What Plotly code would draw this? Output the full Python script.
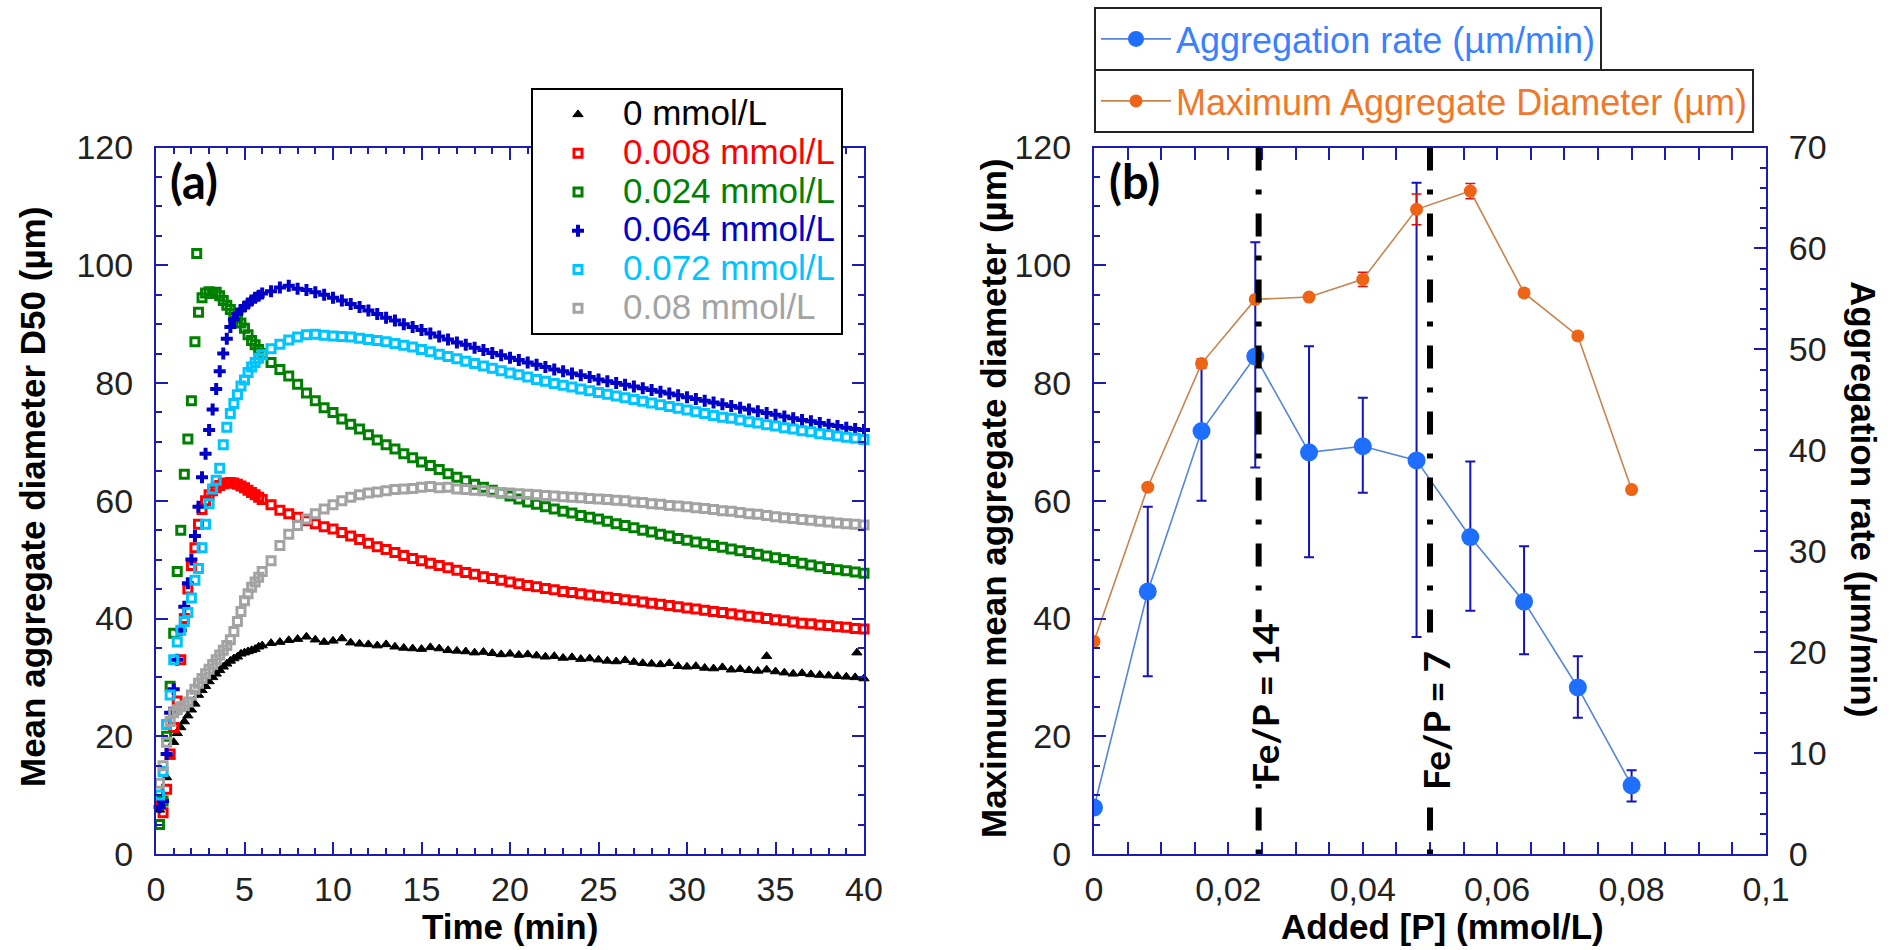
import plotly.graph_objects as go

# ---------------- data: panel (a) ----------------
time_min = [0.2, 0.4, 0.6, 0.8, 1.0, 1.2, 1.4, 1.6, 1.8, 2.0,
            2.2, 2.4, 2.6, 2.8, 3.0, 3.2, 3.4, 3.6, 3.8, 4.0,
            4.2, 4.4, 4.6, 4.8, 5.0, 5.2, 5.4, 5.6, 5.8, 6.0,
            6.5, 7.0, 7.5, 8.0, 8.5, 9.0, 9.5, 10.0, 10.5, 11.0,
            11.5, 12.0, 12.5, 13.0, 13.5, 14.0, 14.5, 15.0, 15.5, 16.0,
            16.5, 17.0, 17.5, 18.0, 18.5, 19.0, 19.5, 20.0, 20.5, 21.0,
            21.5, 22.0, 22.5, 23.0, 23.5, 24.0, 24.5, 25.0, 25.5, 26.0,
            26.5, 27.0, 27.5, 28.0, 28.5, 29.0, 29.5, 30.0, 30.5, 31.0,
            31.5, 32.0, 32.5, 33.0, 33.5, 34.0, 34.5, 35.0, 35.5, 36.0,
            36.5, 37.0, 37.5, 38.0, 38.5, 39.0, 39.5, 40.0]

d50_p0000 = [7.5, 9.5, 13, 16.5, 19, 20.5, 21.5, 22.5, 23.5, 24.5,
             25.5, 27, 27.8, 28.5, 29.3, 30, 30.6, 31.2, 31.8, 32.3,
             32.8, 33.2, 33.5, 34, 34.2, 34.4, 34.6, 34.8, 35.2, 35.4,
             35.8, 36, 36.3, 36.5, 36.9, 36.4, 36, 36.2, 36.6, 35.9,
             35.7, 35.6, 35.4, 35.6, 35.2, 35, 34.9, 34.8, 35.1, 34.9,
             34.6, 34.5, 34.4, 34.2, 34.3, 34.1, 33.9, 34, 33.8, 33.9,
             33.7, 33.5, 33.6, 33.3, 33.4, 33.1, 33.2, 33, 32.8, 32.7,
             32.9, 32.6, 32.4, 32.3, 32.2, 32.4, 31.9, 31.8, 31.9, 31.6,
             31.5, 31.7, 31.3, 31.4, 31.2, 31.1, 31.3, 31, 30.8, 30.6,
             30.7, 30.5, 30.4, 30.3, 30.2, 30.1, 30, 29.8]
d50_p0008 = [9, 7, 11, 17, 21.5, 26, 33, 40, 45, 49,
             52, 56, 58.5, 60, 61, 61.7, 62.2, 62.6, 62.9, 63,
             63.1, 63, 62.8, 62.5, 62.2, 61.8, 61.4, 61, 60.6, 60.2,
             59.3, 58.4, 57.8, 57.2, 56.6, 56.1, 55.6, 55.2, 54.6, 54,
             53.4, 52.8, 52.2, 51.7, 51.2, 50.7, 50.2, 49.8, 49.4, 49,
             48.6, 48.2, 47.8, 47.5, 47.1, 46.8, 46.5, 46.2, 45.9, 45.6,
             45.4, 45.1, 44.9, 44.6, 44.4, 44.2, 44, 43.8, 43.6, 43.4,
             43.2, 43, 42.8, 42.6, 42.4, 42.2, 42, 41.8, 41.6, 41.4,
             41.2, 41, 40.8, 40.6, 40.4, 40.2, 40, 39.8, 39.6, 39.4,
             39.2, 39.1, 38.9, 38.8, 38.6, 38.5, 38.3, 38.2]
d50_p0024 = [5, 9, 20, 28.5, 37.5, 48, 55, 64.5, 70.5, 77,
             87, 92, 94.5, 95.3, 95.5, 95.2, 95.4, 94.8, 94, 93.2,
             92.5, 91.8, 91, 90.2, 89.3, 88.2, 87.2, 86.5, 85.7, 85,
             83.5, 82.3, 81.2, 79.8, 78.3, 77, 75.8, 75, 73.9, 73,
             72.2, 71.2, 70.3, 69.5, 68.8, 68, 67.3, 66.6, 66, 65.3,
             64.6, 64, 63.4, 62.8, 62.3, 61.8, 61.3, 60.8, 60.3, 59.8,
             59.4, 59, 58.6, 58.2, 57.9, 57.5, 57.2, 56.9, 56.5, 56.1,
             55.8, 55.4, 55, 54.7, 54.3, 54, 53.6, 53.3, 53, 52.7,
             52.4, 52.1, 51.8, 51.5, 51.2, 50.9, 50.6, 50.3, 50, 49.7,
             49.4, 49.1, 48.8, 48.5, 48.3, 48.1, 47.9, 47.7]
d50_p0064 = [8, 9, 17, 24, 28, 33, 38, 42, 46, 50,
             54, 59, 64, 68, 72, 75.5, 79, 82, 85, 87.5,
             89.5, 90.8, 91.8, 92.4, 93, 93.5, 94, 94.5, 94.8, 95.2,
             95.6, 96.2, 96.5, 96, 95.8, 95.4, 95, 94.5, 94, 93.4,
             92.9, 92.3, 91.7, 91.1, 90.6, 90, 89.5, 89, 88.4, 87.9,
             87.4, 86.9, 86.5, 86, 85.6, 85.1, 84.7, 84.3, 83.9, 83.5,
             83.1, 82.7, 82.3, 82, 81.6, 81.3, 81, 80.6, 80.3, 80,
             79.7, 79.4, 79.1, 78.8, 78.5, 78.2, 77.9, 77.6, 77.3, 77,
             76.7, 76.4, 76.1, 75.8, 75.5, 75.2, 74.9, 74.6, 74.3, 74,
             73.7, 73.5, 73.2, 72.9, 72.7, 72.4, 72.2, 72]
d50_p0072 = [10, 14, 22, 27, 33, 36, 38, 39.5, 41, 43.5,
             46.5, 48.5, 52, 56, 59.5, 62, 63.5, 65.5, 69.5, 72.5,
             74.8, 76.5, 78, 79.5, 80.5, 81.8, 82.7, 83.5, 84.2, 84.8,
             85.8, 86.6, 87.3, 87.8, 88.2, 88.3, 88.1, 88, 87.9, 87.8,
             87.6, 87.4, 87.2, 87, 86.7, 86.4, 86.1, 85.7, 85.3, 84.9,
             84.5, 84.1, 83.7, 83.3, 82.9, 82.5, 82.1, 81.7, 81.4, 81,
             80.6, 80.3, 79.9, 79.6, 79.3, 79, 78.7, 78.4, 78.1, 77.8,
             77.5, 77.2, 76.9, 76.6, 76.3, 76, 75.7, 75.4, 75.1, 74.8,
             74.5, 74.2, 74, 73.7, 73.4, 73.2, 72.9, 72.7, 72.4, 72.2,
             71.9, 71.7, 71.4, 71.2, 71, 70.8, 70.6, 70.4]
d50_p0080 = [12, 15, 19, 22.5, 24, 24.5, 25, 25.2, 25.8, 27,
             28, 29, 29.8, 30.6, 31.4, 32.2, 33, 33.8, 34.6, 35.4,
             36.4, 37.8, 39.5, 41.2, 43, 44.2, 45.3, 46.2, 47, 48,
             49.8, 52.4, 54.3, 55.8, 56.9, 57.8, 58.6, 59.3, 60, 60.6,
             61, 61.3, 61.5, 61.7, 61.9, 62, 62.1, 62.3, 62.4, 62.2,
             62.3, 62, 61.9, 61.8, 61.7, 61.5, 61.4, 61.3, 61.2, 61.1,
             61, 60.9, 60.8, 60.7, 60.6, 60.5, 60.4, 60.3, 60.2, 60.1,
             60, 59.8, 59.7, 59.5, 59.4, 59.2, 59.1, 59, 58.8, 58.7,
             58.5, 58.3, 58.2, 58, 57.8, 57.7, 57.5, 57.3, 57.1, 57,
             56.8, 56.7, 56.5, 56.4, 56.2, 56.1, 56, 55.9]

# isolated outlying points seen in the picture
outlier_time = {"0 mmol/L": [34.5, 39.6], "0.024 mmol/L": [2.3]}
outlier_value = {"0 mmol/L": [33.6, 34.2], "0.024 mmol/L": [102.0]}

series_names = ["0 mmol/L", "0.008 mmol/L", "0.024 mmol/L",
                "0.064 mmol/L", "0.072 mmol/L", "0.08 mmol/L"]
series_values = [d50_p0000, d50_p0008, d50_p0024, d50_p0064, d50_p0072, d50_p0080]
for v in series_values:
    assert len(v) == len(time_min), len(v)

# ---------------- data: panel (b) ----------------
p_added = [0, 0.008, 0.016, 0.024, 0.032, 0.040, 0.048, 0.056, 0.064, 0.072, 0.080]
agg_rate = [4.6, 26.0, 41.9, 49.3, 39.8, 40.4, 39.0, 31.4, 25.0, 16.5, 6.8]
agg_rate_err_plus = [0, 8.4, 6.9, 11.3, 10.5, 4.8, 27.5, 7.5, 5.5, 3.1, 1.5]
agg_rate_err_minus = [0, 8.4, 6.9, 11.0, 10.4, 4.6, 17.5, 7.3, 5.2, 3.0, 1.6]
max_diam = [36.1, 62.3, 83.3, 94.2, 94.6, 97.6, 109.5, 112.6, 95.3, 88.0, 61.9]
max_diam_err = [0, 0, 0.8, 0, 0, 1.2, 2.6, 1.3, 0.6, 0.5, 0]
fe_p_lines = [0.0245, 0.05]
fe_p_labels = ["Fe/P = 14", "Fe/P = 7"]

# ---------------- styling ----------------
W, H = 1894, 950
AX = "#1c1cb4"
TICKFONT = dict(family="Liberation Sans, Arial, sans-serif", size=34, color="#222222")
TITLEFONT = dict(family="Liberation Sans, Arial, sans-serif", size=35, color="#000000")
series_colors = ["#000000", "#ff0000", "#008000", "#0000c8", "#00c4ff", "#a3a3a3"]
series_symbols = ["triangle-up", "square-open", "square-open", "cross", "square-open", "square-open"]
series_sizes = [9, 8, 8, 10, 8, 8]
series_lw = [1, 3, 3, 0, 3, 3]
fe_p_label_center_px = [703, 721]   # vertical centre of the rotated labels (px from top)

fig = go.Figure()

for name, vals, col, sym, sz, lw in zip(series_names, series_values, series_colors,
                                        series_symbols, series_sizes, series_lw):
    xs = list(time_min) + outlier_time.get(name, [])
    ys = list(vals) + outlier_value.get(name, [])
    fig.add_trace(go.Scatter(
        x=xs, y=ys, mode="markers", xaxis="x", yaxis="y",
        marker=dict(symbol=sym, size=sz, color=col, line=dict(width=lw, color=col)),
        name=f'<span style="color:{col};font-size:35px">{name}</span>',
        legend="legend", cliponaxis=False))

# panel (b): aggregation rate (right axis) and maximum diameter (left axis)
fig.add_trace(go.Scatter(
    x=p_added, y=agg_rate, mode="lines+markers", xaxis="x2", yaxis="y2",
    marker=dict(symbol="circle", size=18, color="#1f6fff"),
    line=dict(color="#5585d8", width=1.6),
    error_y=dict(type="data", symmetric=False, array=agg_rate_err_plus,
                 arrayminus=agg_rate_err_minus, color="#1414b4", thickness=2, width=5),
    name="Aggregation rate (µm/min)", legend="legend2"))
fig.add_trace(go.Scatter(
    x=p_added, y=max_diam, mode="lines+markers", xaxis="x2", yaxis="y3",
    marker=dict(symbol="circle", size=13, color="#ee6416"),
    line=dict(color="#c8844e", width=1.6),
    error_y=dict(type="data", array=max_diam_err, color="#e01010", thickness=1.5, width=5),
    name="Maximum Aggregate Diameter (µm)", legend="legend3"))

for xv in fe_p_lines:
    fig.add_shape(type="line", xref="x2", yref="y3", x0=xv, x1=xv, y0=120, y1=0,
                  line=dict(color="black", width=6, dash="23px,19px,5px,19px"))
for xv, lab, yc in zip(fe_p_lines, fe_p_labels, fe_p_label_center_px):
    fig.add_annotation(x=xv, y=1 - yc / H, xref="x2", yref="paper", text=f"<b>{lab}</b>",
                       textangle=-90, showarrow=False, xanchor="center", yanchor="middle",
                       xshift=5, bgcolor="white", borderpad=0,
                       font=dict(family="Lato, sans-serif", size=37, color="black"))

common = dict(showgrid=False, zeroline=False, showline=True, linecolor=AX, linewidth=2,
              ticks="inside", ticklen=12, tickwidth=2, tickcolor=AX, tickfont=TICKFONT)

L0, L1 = 156 / W, 864 / W
R0, R1 = 1094 / W, 1766 / W
B, T = 1 - 854 / H, 1 - 147.5 / H

fig.update_layout(
    width=W, height=H, autosize=False,
    margin=dict(l=0, r=0, t=0, b=0, autoexpand=False),
    paper_bgcolor="white", plot_bgcolor="white",
    xaxis=dict(domain=[L0, L1], anchor="y", range=[0, 40], tick0=0, dtick=5,
               mirror="allticks", ticklabelstandoff=4,
               minor=dict(dtick=1, ticks="inside", ticklen=6, tickwidth=2, tickcolor=AX),
               **common),
    yaxis=dict(domain=[B, T], anchor="x", range=[0, 120], tick0=0, dtick=20,
               mirror="allticks", ticklabelstandoff=14,
               minor=dict(dtick=5, ticks="inside", ticklen=6, tickwidth=2, tickcolor=AX),
               **common),
    xaxis2=dict(domain=[R0, R1], anchor="y2", range=[0, 0.1],
                tickvals=[0, 0.02, 0.04, 0.06, 0.08, 0.1],
                ticktext=["0", "0,02", "0,04", "0,06", "0,08", "0,1"],
                mirror="allticks", ticklabelstandoff=4,
                minor=dict(dtick=0.005, ticks="inside", ticklen=6, tickwidth=2, tickcolor=AX),
                **common),
    yaxis2=dict(domain=[B, T], anchor="x2", side="right", range=[0, 70], tick0=0, dtick=10,
                ticklabelstandoff=14,
                minor=dict(dtick=2, ticks="inside", ticklen=6, tickwidth=2, tickcolor=AX),
                **common),
    yaxis3=dict(domain=[B, T], anchor="x2", overlaying="y2", side="left", range=[0, 120],
                tick0=0, dtick=20, ticklabelstandoff=14,
                minor=dict(dtick=5, ticks="inside", ticklen=6, tickwidth=2, tickcolor=AX),
                **common),
    legend=dict(x=531 / W, y=1 - 88 / H, xanchor="left", yanchor="top", bgcolor="white",
                bordercolor="black", borderwidth=2, itemwidth=80, tracegroupgap=0,
                font=dict(family="Liberation Sans, Arial, sans-serif", size=27.5, color="black")),
    legend2=dict(x=R0, y=1 - 7 / H, xanchor="left", yanchor="top", bgcolor="white",
                 bordercolor="#222222", borderwidth=2, itemwidth=70,
                 font=dict(family="Liberation Sans, Arial, sans-serif", size=36, color="#3a80ff")),
    legend3=dict(x=R0, y=1 - 69 / H, xanchor="left", yanchor="top", bgcolor="white",
                 bordercolor="#222222", borderwidth=2, itemwidth=70,
                 font=dict(family="Liberation Sans, Arial, sans-serif", size=36, color="#f0782a")),
    showlegend=True,
)

# axis titles and panel labels
fig.add_annotation(x=32 / W, y=1 - 497 / H, xref="paper", yref="paper", textangle=-90,
                   text="<b>Mean aggregate diameter D50 (µm)</b>", showarrow=False,
                   font=TITLEFONT, xanchor="center", yanchor="middle")
fig.add_annotation(x=(L0 + L1) / 2, y=1 - 926 / H, xref="paper", yref="paper",
                   text="<b>Time (min)</b>", showarrow=False, font=TITLEFONT,
                   xanchor="center", yanchor="middle")
fig.add_annotation(x=993 / W, y=1 - 498 / H, xref="paper", yref="paper", textangle=-90,
                   text="<b>Maximum mean aggregate diameter (µm)</b>", showarrow=False,
                   font=TITLEFONT, xanchor="center", yanchor="middle")
fig.add_annotation(x=1442 / W, y=1 - 926 / H, xref="paper", yref="paper",
                   text="<b>Added [P] (mmol/L)</b>", showarrow=False, font=TITLEFONT,
                   xanchor="center", yanchor="middle")
fig.add_annotation(x=1864 / W, y=1 - 499 / H, xref="paper", yref="paper", textangle=90,
                   text="<b>Aggregation rate (µm/min)</b>", showarrow=False,
                   font=TITLEFONT, xanchor="center", yanchor="middle")
fig.add_annotation(x=194 / W, y=1 - 181 / H, xref="paper", yref="paper", text="<b>(a)</b>",
                   showarrow=False, font=dict(family="Lato, sans-serif", size=47, color="black"),
                   xanchor="center", yanchor="middle")
fig.add_annotation(x=1134 / W, y=1 - 181 / H, xref="paper", yref="paper", text="<b>(b)</b>",
                   showarrow=False, font=dict(family="Lato, sans-serif", size=47, color="black"),
                   xanchor="center", yanchor="middle")

fig.write_html("out.html")
